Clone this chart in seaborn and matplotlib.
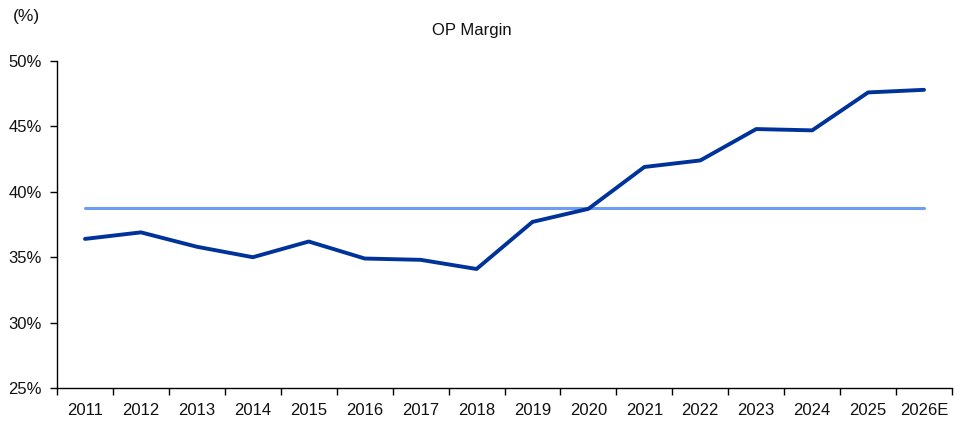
import matplotlib
matplotlib.use('Agg')
import matplotlib.pyplot as plt
import seaborn as sns
import pandas as pd
from matplotlib.ticker import FixedLocator, FuncFormatter

# data
years = ['2011', '2012', '2013', '2014', '2015', '2016', '2017', '2018',
         '2019', '2020', '2021', '2022', '2023', '2024', '2025', '2026E']
op_margin = [36.4, 36.9, 35.8, 35.0, 36.2, 34.9, 34.8, 34.1,
             37.7, 38.7, 41.9, 42.4, 44.8, 44.7, 47.6, 47.8]
avg_margin = 38.8

df = pd.DataFrame({'year': years, 'margin': op_margin})
df['pos'] = range(len(years))
df['avg'] = avg_margin

sns.set_style('white')
plt.rcParams['font.family'] = ['Liberation Sans Narrow', 'Liberation Sans', 'DejaVu Sans']
plt.rcParams['text.color'] = '#111111'
plt.rcParams['xtick.color'] = 'black'
plt.rcParams['ytick.color'] = 'black'
plt.rcParams['xtick.labelcolor'] = '#111111'
plt.rcParams['ytick.labelcolor'] = '#111111'

fig = plt.figure(figsize=(9.62, 4.21), dpi=100)
ax = fig.add_axes([0.0593, 0.0784, 0.9303, 0.7766])

sns.lineplot(data=df, x='pos', y='avg', ax=ax, color='#6f9cf7', linewidth=2.2)
sns.lineplot(data=df, x='pos', y='margin', ax=ax, color='#003399', linewidth=2.8)

ax.set_xlim(-0.5, len(years) - 0.5)
ax.set_ylim(25, 50)
ax.set_yticks([25, 30, 35, 40, 45, 50])
ax.yaxis.set_major_formatter(FuncFormatter(lambda v, p: f'{v:.0f}%'))
ax.set_xticks(df['pos'])
ax.set_xticklabels(years)
ax.xaxis.set_minor_locator(FixedLocator([i - 0.5 for i in range(len(years) + 1)]))
ax.tick_params(axis='x', which='major', bottom=True, length=0, labelsize=12, pad=11)
ax.tick_params(axis='x', which='minor', bottom=True, length=5, width=1, direction='out')
ax.tick_params(axis='y', left=True, length=5, width=1, direction='out', labelsize=12, pad=6)
ax.set_xlabel('')
ax.set_ylabel('')

for s in ['top', 'right']:
    ax.spines[s].set_visible(False)
for s in ['left', 'bottom']:
    ax.spines[s].set_color('black')
    ax.spines[s].set_linewidth(1)

fig.text(472 / 962, 1 - 30 / 421, 'OP Margin', ha='center', va='center',
         fontsize=12, family=['Liberation Sans', 'DejaVu Sans'])
fig.text(26 / 962, 1 - 17 / 421, '(%)', ha='center', va='center', fontsize=12.5)

fig.savefig('out.png', dpi=100)
